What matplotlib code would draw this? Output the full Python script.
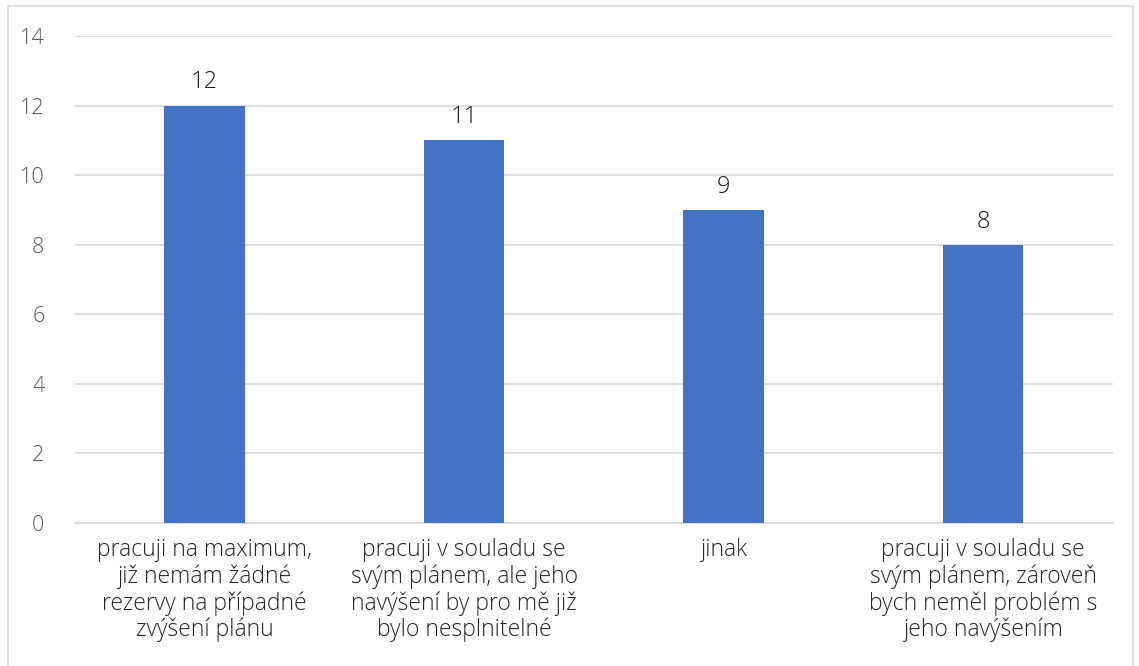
import matplotlib.pyplot as plt
from matplotlib.patches import Rectangle

categories = [
    "pracuji na maximum,\njiž nemám žádné\nrezervy na případné\nzvýšení plánu",
    "pracuji v souladu se\nsvým plánem, ale jeho\nnavýšení by pro mě již\nbylo nesplnitelné",
    "jinak",
    "pracuji v souladu se\nsvým plánem, zároveň\nbych neměl problém s\njeho navýšením",
]
values = [12, 11, 9, 8]

plt.rcParams['font.family'] = ['Open Sans', 'DejaVu Sans']

fig = plt.figure(figsize=(11.39, 6.66), dpi=100)
ax = fig.add_axes([0.0658, 0.2147, 0.9112, 0.7313])

x = range(len(values))
bars = ax.bar(x, values, width=0.31, color='#4472C4', zorder=3)
for rect, v in zip(bars, values):
    ax.text(rect.get_x() + rect.get_width() / 2, v + 0.32, str(v),
            ha='center', va='bottom', fontsize=17, color='#1a1a1a', fontweight='light')

ax.set_xlim(-0.5, len(values) - 0.5)
ax.set_ylim(0, 14)
ax.set_yticks(range(0, 15, 2))
ax.yaxis.grid(True, color='#D9D9D9', linewidth=1.2, zorder=0)
for s in ['top', 'right', 'left']:
    ax.spines[s].set_visible(False)
ax.spines['bottom'].set_color('#D9D9D9')
ax.spines['bottom'].set_linewidth(1.2)
ax.tick_params(axis='both', length=0, labelsize=15.5, colors='#595959')
ax.tick_params(axis='y', pad=22)
ax.set_xticks(list(x))
ax.set_xticklabels(categories, fontsize=16.5, color='#262626', linespacing=1.12)
ax.tick_params(axis='x', pad=11)
for lbl in ax.get_xticklabels() + ax.get_yticklabels():
    lbl.set_fontweight('light')

fig.patches.append(Rectangle((8 / 1139, -0.01), 1125 / 1139, 1 - 6 / 666 + 0.01,
                             transform=fig.transFigure, fill=False,
                             edgecolor='#D9D9D9', linewidth=1.2))

fig.savefig('out.png', dpi=100)
